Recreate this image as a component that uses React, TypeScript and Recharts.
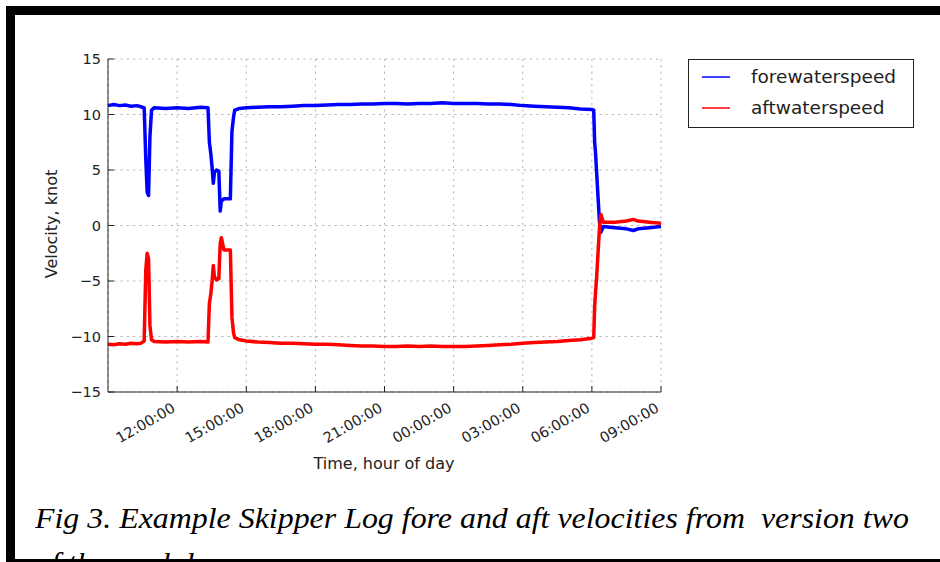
import React from 'react';
import { LineChart, Line, XAxis, YAxis, CartesianGrid, Legend } from 'recharts';

// time axis: hours since 09:00 of day one
const hours = [
  0, 0.25, 0.5, 0.75, 1.0, 1.25, 1.43,
  1.57, 1.64, 1.70, 1.76, 1.82, 1.89,
  2.0, 2.5, 3.0, 3.5, 4.0,
  4.34, 4.40, 4.46, 4.52, 4.57, 4.62, 4.71, 4.81, 4.87, 4.92,
  5.03, 5.31, 5.38, 5.45, 5.50, 5.71,
  6.0, 6.5, 7.0, 7.5, 8.0, 8.5, 9.0, 9.5, 10.0, 10.5, 11.0, 11.5, 12.0, 12.5, 13.0, 13.5,
  14.0, 14.5, 15.0, 15.5, 16.0, 16.5, 17.0, 17.5, 18.0, 18.5, 19.0, 19.5, 20.0, 20.5, 21.0,
  21.08, 21.12, 21.16, 21.20, 21.33, 21.39,
  21.5, 22.0, 22.5, 22.8, 23.0, 23.5, 24.0
];

const foreWaterSpeed = [
  10.8, 10.9, 10.8, 10.85, 10.75, 10.8, 10.7,
  10.6, 6.0, 3.0, 2.7, 8.0, 10.4,
  10.6, 10.55, 10.6, 10.55, 10.65,
  10.6, 7.5, 6.5, 5.2, 3.8, 4.8, 5.0, 4.9, 1.3, 2.2,
  2.4, 2.4, 8.5, 9.8, 10.4, 10.55,
  10.6, 10.65, 10.7, 10.7, 10.75, 10.8, 10.8, 10.85, 10.9, 10.9, 10.95, 10.95, 11.0, 11.0, 10.95, 11.0,
  11.0, 11.05, 11.0, 11.0, 11.0, 10.95, 10.95, 10.9, 10.8, 10.75, 10.7, 10.65, 10.6, 10.5, 10.45,
  10.4, 7.5, 6.5, 5.0, 0.3, -0.6,
  -0.1, -0.2, -0.3, -0.45, -0.3, -0.2, -0.1
];

const aftWaterSpeed = [
  -10.7, -10.75, -10.65, -10.7, -10.6, -10.65, -10.6,
  -10.4, -4.0, -2.5, -3.0, -9.0, -10.3,
  -10.45, -10.5, -10.45, -10.5, -10.45,
  -10.5, -7.0, -6.2, -5.0, -3.6, -4.6, -4.9, -4.8, -1.6, -1.1,
  -2.2, -2.2, -8.3, -9.7, -10.1, -10.3,
  -10.4, -10.5, -10.55, -10.6, -10.6, -10.65, -10.7, -10.7, -10.75, -10.8, -10.85, -10.85, -10.9, -10.9, -10.85, -10.9,
  -10.85, -10.9, -10.9, -10.9, -10.85, -10.8, -10.75, -10.7, -10.6, -10.55, -10.5, -10.45, -10.35, -10.3, -10.15,
  -10.1, -7.3, -6.0, -4.9, -0.2, 1.0,
  0.3, 0.3, 0.4, 0.55, 0.4, 0.3, 0.2
];

const xTicks = [3, 6, 9, 12, 15, 18, 21, 24];
const xTickLabels = ['12:00:00', '15:00:00', '18:00:00', '21:00:00', '00:00:00', '03:00:00', '06:00:00', '09:00:00'];
const yTicks = [-15, -10, -5, 0, 5, 10, 15];
const seriesNames = ['forewaterspeed', 'aftwaterspeed'];
const seriesColors = ['#0000ff', '#ff0000'];

const data = hours.map((h, i) => ({ h, fore: foreWaterSpeed[i], aft: aftWaterSpeed[i] }));

const FONT = '"DejaVu Sans", sans-serif';
const TEXT = '#222';
const PLOT_BOTTOM = 392;

const XTick = (props: any) => {
  const { x, payload } = props;
  const label = xTickLabels[xTicks.indexOf(payload.value)];
  const tx = x - 1;
  const ty = PLOT_BOTTOM + 19;
  return (
    <text x={tx} y={ty} transform={`rotate(-30, ${tx}, ${ty})`} textAnchor="end"
      fontSize={14.5} fill={TEXT} fontFamily={FONT}>
      {label}
    </text>
  );
};

const YTick = (props: any) => {
  const { y, payload } = props;
  const v = payload.value;
  const label = v < 0 ? '\u2212' + Math.abs(v) : String(v);
  return (
    <text x={101} y={y} dy={5} textAnchor="end" fontSize={14.5} fill={TEXT} fontFamily={FONT}>
      {label}
    </text>
  );
};

// legend drawn in the series order of the original figure
const renderLegend = () => (
  <div style={{
    width: 226, height: 69, boxSizing: 'border-box', border: '1px solid #222',
    background: '#fff', position: 'relative', fontFamily: FONT, fontSize: 18.5, color: TEXT
  }}>
    {seriesNames.map((name, i) => (
      <div key={name} style={{ position: 'absolute', left: 0, top: [17, 48][i] - 12, height: 24, width: 224 }}>
        <svg width={30} height={24} style={{ position: 'absolute', left: 13, top: 0 }}>
          <line x1={0} y1={12} x2={28} y2={12} stroke={seriesColors[i]} strokeWidth={1.5} />
        </svg>
        <span style={{ position: 'absolute', left: 62, top: 0, lineHeight: '24px', whiteSpace: 'nowrap' }}>
          {name}
        </span>
      </div>
    ))}
  </div>
);

export default function App() {
  const captionFont = '"Liberation Serif", "Times New Roman", serif';
  return (
    <div style={{ position: 'absolute', left: 0, top: 0, width: 940, height: 562, background: '#fff', overflow: 'hidden' }}>
      <LineChart width={940} height={562} data={data} margin={{ top: 59, right: 279, bottom: 100, left: 0 }}>
        <CartesianGrid strokeDasharray="2 4.3" stroke="#b0b0b0" />
        <XAxis
          dataKey="h"
          type="number"
          domain={[0, 24]}
          ticks={xTicks}
          interval={0}
          tick={XTick}
          tickSize={-6}
          tickLine={{ stroke: '#222' }}
          axisLine={{ stroke: '#222' }}
          height={70}
          label={() => (
            <text x={384} y={469} textAnchor="middle" fontSize={16} fill={TEXT} fontFamily={FONT}>
              Time, hour of day
            </text>
          )}
        />
        <XAxis
          xAxisId="top"
          orientation="top"
          dataKey="h"
          type="number"
          domain={[0, 24]}
          ticks={xTicks}
          interval={0}
          tick={false}
          tickSize={-6}
          tickLine={{ stroke: '#222' }}
          axisLine={{ stroke: '#222' }}
          height={0}
        />
        <YAxis
          type="number"
          domain={[-15, 15]}
          ticks={yTicks}
          interval={0}
          tick={YTick}
          tickSize={-6}
          tickLine={{ stroke: '#222' }}
          axisLine={{ stroke: '#222' }}
          width={108}
          label={() => (
            <text x={57} y={224} transform="rotate(-90, 57, 224)" textAnchor="middle" fontSize={16} fill={TEXT} fontFamily={FONT}>
              Velocity, knot
            </text>
          )}
        />
        <YAxis
          yAxisId="right"
          orientation="right"
          type="number"
          domain={[-15, 15]}
          ticks={yTicks}
          interval={0}
          tick={false}
          tickSize={-6}
          tickLine={{ stroke: '#222' }}
          axisLine={{ stroke: '#222' }}
          width={0}
        />
        <Legend
          layout="vertical"
          align="center"
          verticalAlign="middle"
          content={renderLegend}
          wrapperStyle={{ left: 688, top: 59, width: 226, height: 69 }}
        />
        <Line
          type="linear"
          dataKey="fore"
          name={seriesNames[0]}
          stroke={seriesColors[0]}
          strokeWidth={3.5}
          strokeLinejoin="round"
          dot={false}
          isAnimationActive={false}
        />
        <Line
          type="linear"
          dataKey="aft"
          name={seriesNames[1]}
          stroke={seriesColors[1]}
          strokeWidth={3.5}
          strokeLinejoin="round"
          dot={false}
          isAnimationActive={false}
        />
      </LineChart>

      {/* caption; the second line runs under the frame and only its ascenders show */}
      <div style={{
        position: 'absolute', left: 35, top: 500, width: 905, height: 59, overflow: 'hidden',
        fontFamily: captionFont, fontStyle: 'italic', fontSize: 29, color: '#000', whiteSpace: 'pre'
      }}>
        <div style={{ position: 'absolute', left: 0, top: 0, lineHeight: '36px', transform: 'scaleX(1.1)', transformOrigin: 'left center' }}>
          Fig 3. Example Skipper Log fore and aft velocities from  version two
        </div>
        <div style={{ position: 'absolute', left: 0, top: 45, lineHeight: '36px', transform: 'scaleX(1.1)', transformOrigin: 'left center' }}>
          of the module
        </div>
      </div>

      {/* page frame */}
      <div style={{ position: 'absolute', left: 6, top: 6, width: 934, height: 9, background: '#000' }} />
      <div style={{ position: 'absolute', left: 6, top: 6, width: 9, height: 556, background: '#000' }} />
      <div style={{ position: 'absolute', left: 6, top: 559, width: 934, height: 3, background: '#000' }} />
    </div>
  );
}
